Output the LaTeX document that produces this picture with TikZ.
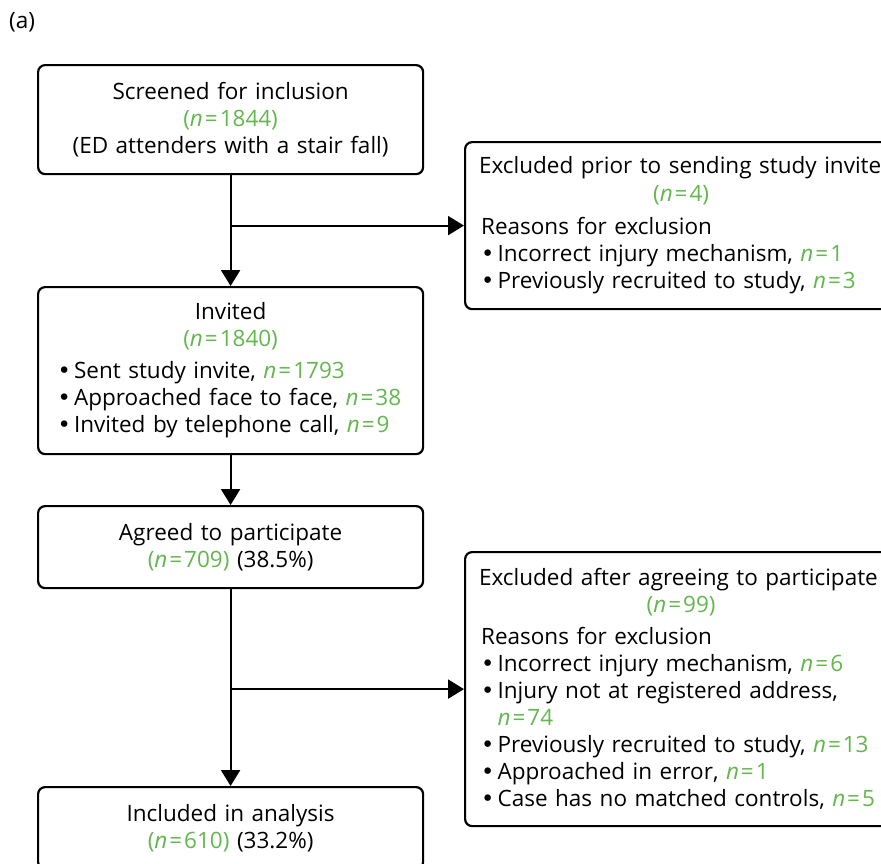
\documentclass[tikz,border=0pt]{standalone}
\usepackage{fontspec}
\setmainfont{Open Sans}
\newfontfamily\bulfont{DejaVu Sans}
\usetikzlibrary{arrows.meta}
\definecolor{ngreen}{RGB}{98,183,77}
\newcommand{\nval}[1]{\textcolor{ngreen}{\textit{n}\kern2pt=\kern2pt#1}}
\newcommand{\npar}[1]{\textcolor{ngreen}{(\textit{n}\kern2pt=\kern2pt#1)}}
\newcommand{\bul}{\makebox[16.5pt][l]{\bulfont •}}
\newlength{\listw}\setlength{\listw}{346pt}
\newlength{\exw}\setlength{\exw}{400pt}
\newcommand{\mitem}[1]{\makebox[\listw][l]{\bul#1}}
\newcommand{\xitem}[1]{\makebox[\exw][l]{#1}}
\newcommand{\xtitle}[1]{\makebox[\exw][l]{\kern-2pt#1}}

\begin{document}
\begin{tikzpicture}[x=1pt,y=-1pt,
  font=\fontsize{22.5}{27}\selectfont,
  stagebox/.style={draw, line width=2.2pt, rounded corners=7pt,
    inner sep=0pt, text width=385pt, align=center, anchor=north west},
  exclbox/.style={draw, line width=2.2pt, rounded corners=7pt,
    inner xsep=16pt, inner ysep=0pt, text width=400pt, align=center,
    anchor=north west},
  flow/.style={line width=2.2pt, -{Triangle[length=16pt,width=19pt]}}]
\useasboundingbox (0,0) rectangle (881,863);
\clip (0,0) rectangle (881,863);

\node[anchor=west, inner sep=0pt] (panel) at (9,22) {(a)};

% main flow
\node[stagebox, minimum height=109pt] (screen) at (37,64)
  {Screened for inclusion\\ \npar{1844}\\ (ED attenders with a stair fall)};
\node[stagebox, minimum height=167pt] (invited) at (37,286)
  {Invited\\ \npar{1840}\\[5pt]
   \mitem{Sent study invite, \nval{1793}}\\
   \mitem{Approached face to face, \nval{38}}\\
   \mitem{Invited by telephone call, \nval{9}}};
\node[stagebox, minimum height=82pt] (agreed) at (37,505)
  {Agreed to participate\\ \npar{709} (38.5\%)};
\node[stagebox, minimum height=82pt] (included) at (37,786)
  {Included in analysis\\ \npar{610} (33.2\%)};

% exclusion boxes
\node[exclbox, minimum height=167pt] (excl1) at (464,141)
  {\xtitle{Excluded prior to sending study invite}\\[1pt] \npar{4}\\[6pt]
   \xitem{Reasons for exclusion}\\
   \xitem{\bul Incorrect injury mechanism, \nval{1}}\\
   \xitem{\bul Previously recruited to study, \nval{3}}};
\node[exclbox, minimum height=274pt] (excl2) at (464,551)
  {\xtitle{Excluded after agreeing to participate}\\ \npar{99}\\[5pt]
   \xitem{Reasons for exclusion}\\
   \xitem{\bul Incorrect injury mechanism, \nval{6}}\\
   \xitem{\bul Injury not at registered address,}\\
   \xitem{\hspace*{16.5pt}\nval{74}}\\
   \xitem{\bul Previously recruited to study, \nval{13}}\\
   \xitem{\bul Approached in error, \nval{1}}\\
   \xitem{\bul Case has no matched controls, \nval{5}}};

% connectors
\draw[flow] (screen) -- (invited);
\draw[flow] (screen.south |- excl1.west) -- (excl1.west);
\draw[flow] (invited) -- (agreed);
\draw[flow] (agreed) -- (included);
\draw[flow] (agreed.south |- excl2.west) -- (excl2.west);
\end{tikzpicture}
\end{document}
